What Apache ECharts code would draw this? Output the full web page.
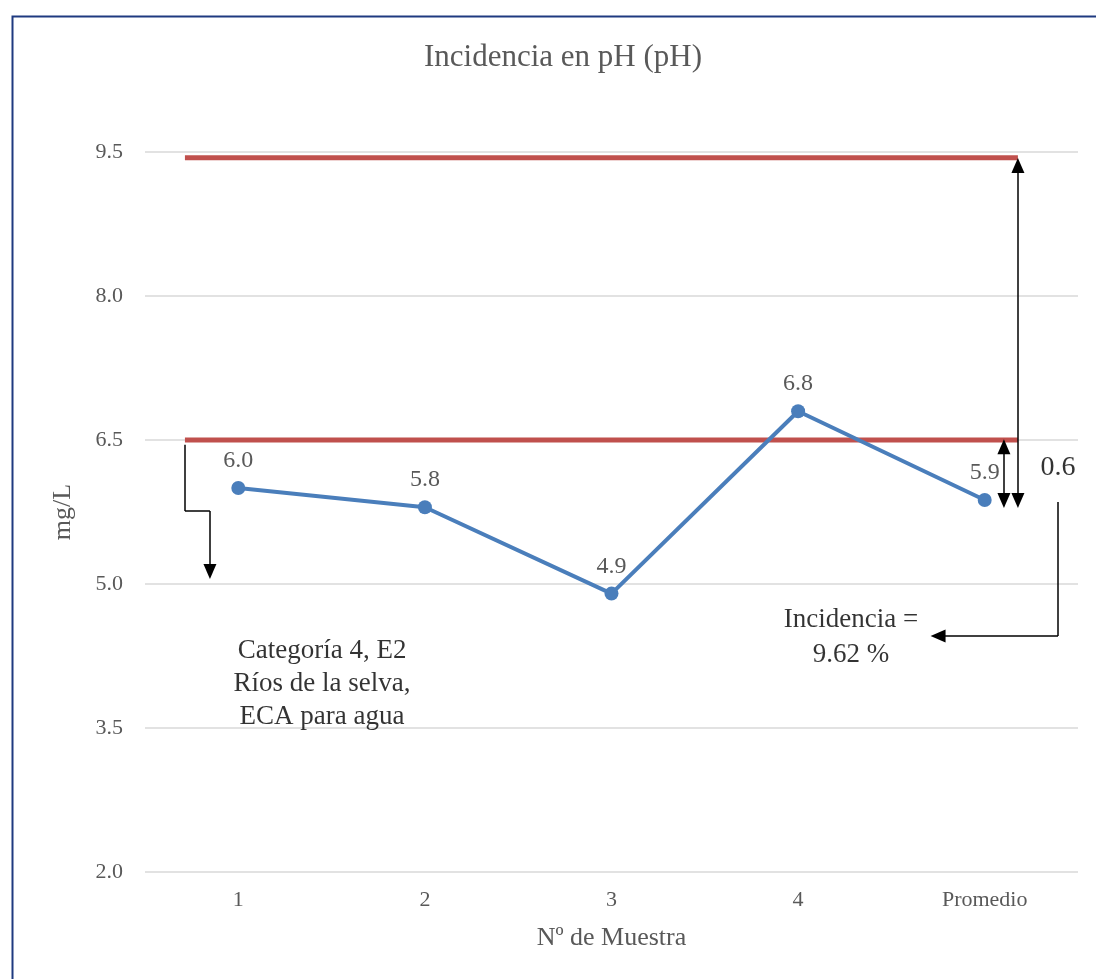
<!DOCTYPE html>
<html>
<head>
<meta charset="utf-8">
<script src="https://cdn.jsdelivr.net/npm/echarts@6/dist/echarts.min.js"></script>
<style>html,body{margin:0;padding:0;background:#fff;}#chart{width:1096px;height:979px;}</style>
</head>
<body>
<div id="chart"></div>
<script>
// ---- data ----
var categories = ['1', '2', '3', '4', 'Promedio'];
var phValues = [6.0, 5.8, 4.9, 6.8, 5.875];
var yTicks = { min: 2.0, max: 9.5, interval: 1.5 };
var limitUpper = 9.44;      // upper ECA line (as drawn)
var limitLower = 6.5;       // lower ECA line
var limitSpan = [0.214, 4.678]; // x extent of limit lines (hidden value axis, 0..5)
// annotation arrows (hidden value axis x, y in pH)
var arrowBig = [[4.678, 5.87], [4.678, 9.36]];
var arrowSmall = [[4.603, 5.87], [4.603, 6.43]];
var bracketRight = [[4.893, 5.854], [4.893, 4.458], [4.25, 4.458]];
var bracketLeft = [[0.214, 6.45], [0.214, 5.76], [0.348, 5.76], [0.348, 5.13]];
var notes = [
  { name: '0.6', value: [4.893, 6.208], size: 28, lh: 30 },
  { name: 'Incidencia =\n9.62 %', value: [3.783, 4.448], size: 27, lh: 35 },
  { name: 'Categoría 4, E2\nRíos de la selva,\nECA para agua', value: [0.949, 3.958], size: 27, lh: 33 }
];

var serif = '"Liberation Serif", "Times New Roman", serif';
var gray = '#595959';

function segs(points, arrowStart, arrowEnd) {
  var out = [];
  for (var i = 0; i < points.length - 1; i++) {
    out.push([
      { coord: points[i], symbol: (i === 0 && arrowStart) ? 'triangle' : 'none' },
      { coord: points[i + 1], symbol: (i === points.length - 2 && arrowEnd) ? 'triangle' : 'none' }
    ]);
  }
  return out;
}

var chart = echarts.init(document.getElementById('chart'));
var option = {
  backgroundColor: '#fff',
  animation: false,
  title: {
    text: 'Incidencia en pH (pH)',
    left: 558, top: 37, textAlign: 'center',
    textStyle: { fontFamily: serif, fontSize: 31, fontWeight: 'normal', color: gray }
  },
  graphic: [{
    type: 'rect', left: 10, top: 14, silent: true,
    shape: { width: 1100, height: 1000 },
    style: { fill: 'none', stroke: '#1F3A80', lineWidth: 2 }
  }],
  grid: { left: 145, right: 18, top: 152, bottom: 107 },
  xAxis: [{
    type: 'category', data: categories, boundaryGap: true,
    axisLine: { show: false }, axisTick: { show: false },
    axisLabel: { fontFamily: serif, fontSize: 22, color: gray, margin: 17 },
    name: 'Nº de Muestra', nameLocation: 'middle', nameGap: 53,
    nameTextStyle: { fontFamily: serif, fontSize: 26, color: gray }
  }, {
    type: 'value', min: 0, max: 5, show: false
  }],
  yAxis: {
    type: 'value', min: yTicks.min, max: yTicks.max, interval: yTicks.interval,
    axisLine: { show: false }, axisTick: { show: false },
    axisLabel: { fontFamily: serif, fontSize: 22, color: gray, margin: 22,
      formatter: function (v) { return v.toFixed(1); } },
    splitLine: { lineStyle: { color: '#D9D9D9', width: 1.5 } },
    name: 'mg/L', nameLocation: 'middle', nameGap: 69,
    nameTextStyle: { fontFamily: serif, fontSize: 26, color: gray }
  },
  series: [
    {
      type: 'line', xAxisIndex: 1, symbol: 'none', silent: true,
      data: [[limitSpan[0], limitUpper], [limitSpan[1], limitUpper]],
      lineStyle: { color: '#C0504D', width: 5 }
    },
    {
      type: 'line', xAxisIndex: 1, symbol: 'none', silent: true,
      data: [[limitSpan[0], limitLower], [limitSpan[1], limitLower]],
      lineStyle: { color: '#C0504D', width: 5 }
    },
    {
      type: 'line', data: phValues, symbol: 'circle', symbolSize: 14,
      itemStyle: { color: '#4A7EBB' },
      lineStyle: { color: '#4A7EBB', width: 4 },
      label: { show: true, position: 'top', distance: 8, fontFamily: serif, fontSize: 24, color: gray,
        formatter: function (p) { return p.value.toFixed(1); } }
    },
    {
      type: 'line', xAxisIndex: 1, data: [], silent: true,
      markLine: {
        silent: true, symbolSize: [13, 15], label: { show: false },
        lineStyle: { type: 'solid', color: '#000', width: 1.5 },
        emphasis: { disabled: true },
        data: [].concat(
          segs(arrowBig, true, true),
          segs(arrowSmall, true, true),
          segs(bracketRight, false, true),
          segs(bracketLeft, false, true)
        )
      }
    },
    {
      type: 'scatter', xAxisIndex: 1, symbolSize: 0, silent: true,
      data: notes.map(function (n) {
        return { name: n.name, value: n.value,
          label: { fontSize: n.size, lineHeight: n.lh } };
      }),
      label: { show: true, position: 'inside', fontFamily: serif, color: '#000', align: 'center',
        formatter: function (p) { return p.name; } }
    }
  ]
};
chart.setOption(option);
</script>
</body>
</html>
